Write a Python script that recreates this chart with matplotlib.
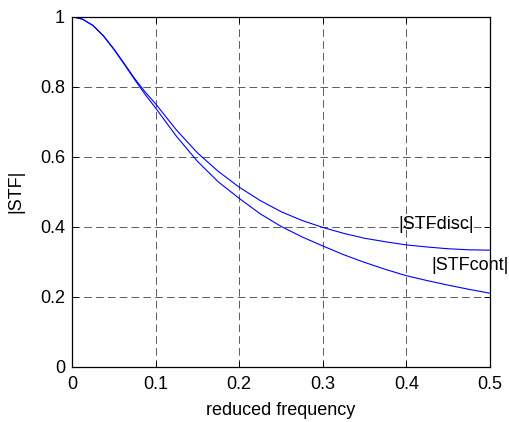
import matplotlib
matplotlib.use("Agg")
import matplotlib.pyplot as plt

# reduced frequency samples
freq = [0.0, 0.0125, 0.025, 0.0375, 0.05, 0.0625, 0.075, 0.0875, 0.1, 0.125, 0.15, 0.175,
        0.2, 0.225, 0.25, 0.275, 0.3, 0.325, 0.35, 0.375, 0.4, 0.425, 0.45, 0.475, 0.5]
stf_cont = [1.000, 0.993, 0.975, 0.945, 0.907, 0.864, 0.820, 0.778, 0.739, 0.658, 0.587,
            0.528, 0.481, 0.437, 0.401, 0.371, 0.345, 0.320, 0.298, 0.278, 0.260, 0.246,
            0.233, 0.221, 0.210]
stf_disc = [1.000, 0.993, 0.975, 0.946, 0.908, 0.866, 0.823, 0.785, 0.751, 0.676, 0.611,
            0.558, 0.513, 0.475, 0.443, 0.418, 0.398, 0.381, 0.367, 0.357, 0.348, 0.342,
            0.337, 0.334, 0.333]
xticks = [0, 0.1, 0.2, 0.3, 0.4, 0.5]
yticks = [0, 0.2, 0.4, 0.6, 0.8, 1]

plt.rcParams['font.family'] = ['Liberation Sans', 'DejaVu Sans']
plt.rcParams['font.size'] = 13
plt.rcParams['lines.scale_dashes'] = False

fig = plt.figure(figsize=(5.09, 4.22), dpi=100)
ax = fig.add_axes([0.1415, 0.131, 0.8212, 0.8294])

ax.plot(freq, stf_cont, color=(0, 0, 1), linewidth=0.8)
ax.plot(freq, stf_disc, color=(0, 0, 1), linewidth=0.8)

ax.text(0.39, 0.405, '|STFdisc|', ha='left', va='center')
ax.text(0.43, 0.29, '|STFcont|', ha='left', va='center')

ax.set_xlim(0, 0.5)
ax.set_ylim(0, 1)
ax.set_xticks(xticks)
ax.set_yticks(yticks)
ax.set_xticklabels(['0', '0.1', '0.2', '0.3', '0.4', '0.5'])
ax.set_yticklabels(['0', '0.2', '0.4', '0.6', '0.8', '1'])
ax.grid(True, color='black', linestyle=(0, (5.5, 3.0)), linewidth=0.6, alpha=0.75)
ax.tick_params(direction='in', length=4, width=0.7, top=True, right=True, pad=5)
ax.tick_params(axis='x', pad=7)
for s in ax.spines.values():
    s.set_linewidth(0.9)

ax.set_xlabel('reduced frequency', labelpad=6)
ax.set_ylabel('|STF|', labelpad=11)

fig.savefig('out.png', dpi=100)
